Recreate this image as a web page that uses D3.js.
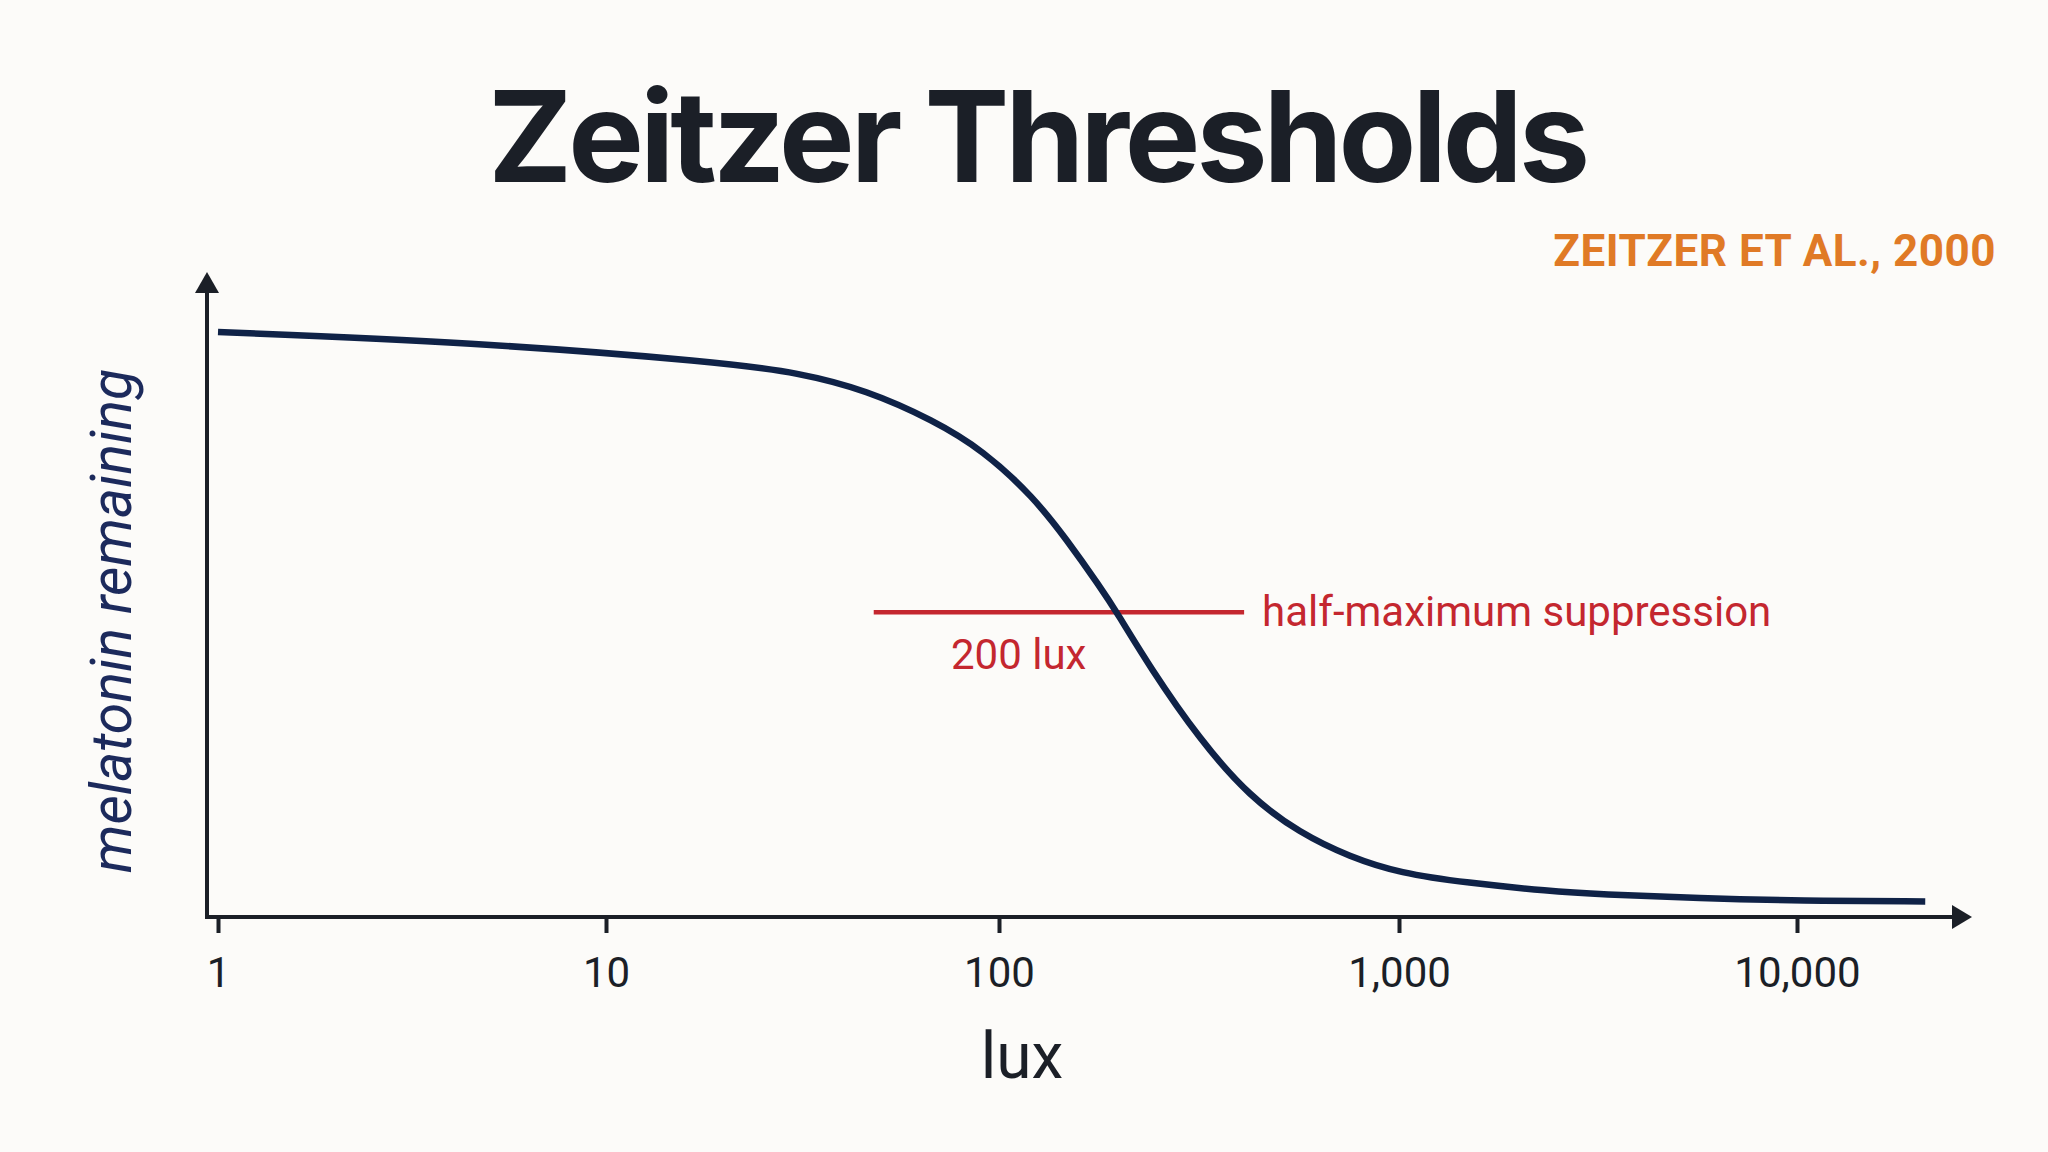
<!DOCTYPE html>
<html>
<head>
<meta charset="utf-8">
<script src="https://cdn.jsdelivr.net/npm/d3@7"></script>
<style>
  html, body { margin: 0; padding: 0; background: #fcfbf9; }
  svg { display: block; }
</style>
</head>
<body>
<div id="chart"></div>
<script>
// data
var luxValues = [1, 4.5, 19.5, 31, 46, 68, 91, 122, 148, 179, 197, 238, 318, 424, 565, 754, 1006, 1480, 2390, 3200, 5700, 10190, 21000];
var melatoninRemaining = [97.5, 95.8, 92.5, 90.7, 87.8, 82.8, 77.8, 70, 62.8, 55, 50.8, 41.7, 29.5, 20, 14, 10, 7.3, 5.7, 4.3, 3.8, 3.1, 2.7, 2.6];
var tickValues = [1, 10, 100, 1000, 10000];
var halfMax = 50.8;
var halfMaxSpan = [48, 410];
var thresholdLux = 200;

var svgWidth = 2048;
var svgHeight = 1152;

var navy = "#0f2247";
var ink = "#1b1f27";
var red = "#c4272f";

var svg = d3.select("#chart")
    .append("svg")
    .attr("width", svgWidth)
    .attr("height", svgHeight);

svg.append("rect")
    .attr("width", svgWidth)
    .attr("height", svgHeight)
    .attr("fill", "#fcfbf9");

// decades in the picture are not quite evenly spaced
var x = d3.scaleLog()
    .domain(tickValues)
    .range([218, 606, 999, 1399, 1797]);

var y = d3.scaleLinear()
    .domain([0, 100])
    .range([917, 317]);

var axisX0 = 207;
var axisY0 = 917;

// title + source
var title = svg.append("text")
    .attr("x", 1037)
    .attr("y", 182)
    .attr("text-anchor", "middle")
    .style("font-family", "Inter, Roboto, sans-serif")
    .style("font-weight", 700)
    .style("font-size", "127px")
    .attr("fill", ink)
    .text("Zeitzer Thresholds");

// fit the title to the width it has in the picture
var titleWidth = title.node().getComputedTextLength();
title.style("letter-spacing", ((1102 - titleWidth) / 17) + "px");

svg.append("text")
    .attr("x", 1996)
    .attr("y", 266)
    .attr("text-anchor", "end")
    .style("font-family", "Roboto, sans-serif")
    .style("font-weight", 700)
    .style("font-size", "44px")
    .style("letter-spacing", "0.5px")
    .attr("fill", "#e07a26")
    .text("ZEITZER ET AL., 2000");

// x axis with ticks
var bottomAxis = d3.axisBottom(x)
    .tickValues(tickValues)
    .tickFormat(d3.format(","))
    .tickSize(16)
    .tickPadding(24);

var xAxis = svg.append("g")
    .attr("transform", `translate(0, ${axisY0})`)
    .call(bottomAxis);

xAxis.select(".domain").remove();
xAxis.selectAll(".tick line")
    .attr("stroke", ink)
    .attr("stroke-width", 4);
xAxis.selectAll(".tick text")
    .attr("fill", ink)
    .style("font-family", "Roboto, sans-serif")
    .style("font-size", "42px");

// axis lines with arrow heads
svg.append("line")
    .attr("x1", axisX0).attr("y1", axisY0)
    .attr("x2", 1955).attr("y2", axisY0)
    .attr("stroke", ink)
    .attr("stroke-width", 4);
svg.append("path")
    .attr("d", `M1972,${axisY0} L1952,${axisY0 - 12} L1952,${axisY0 + 12} Z`)
    .attr("fill", ink);

svg.append("line")
    .attr("x1", axisX0).attr("y1", axisY0 + 2)
    .attr("x2", axisX0).attr("y2", 290)
    .attr("stroke", ink)
    .attr("stroke-width", 4);
svg.append("path")
    .attr("d", `M${axisX0},272 L${axisX0 - 12},293 L${axisX0 + 12},293 Z`)
    .attr("fill", ink);

// axis labels
svg.append("text")
    .attr("x", 1022)
    .attr("y", 1078)
    .attr("text-anchor", "middle")
    .style("font-family", "Roboto, sans-serif")
    .style("font-size", "64px")
    .attr("fill", ink)
    .text("lux");

svg.append("text")
    .attr("transform", "translate(131, 621) rotate(-90)")
    .attr("text-anchor", "middle")
    .style("font-family", "Roboto, sans-serif")
    .style("font-style", "italic")
    .style("font-size", "57px")
    .attr("fill", "#1c2a5c")
    .text("melatonin remaining");

// half-maximum marker
svg.append("line")
    .attr("x1", x(halfMaxSpan[0])).attr("y1", y(halfMax))
    .attr("x2", x(halfMaxSpan[1])).attr("y2", y(halfMax))
    .attr("stroke", red)
    .attr("stroke-width", 4.5);

// suppression curve
var curveData = luxValues.map(function(l, i) {
    return { lux: l, value: melatoninRemaining[i] };
});

var line = d3.line()
    .x(d => x(d.lux))
    .y(d => y(d.value))
    .curve(d3.curveBasis);

svg.append("path")
    .datum(curveData)
    .attr("d", line)
    .attr("fill", "none")
    .attr("stroke", navy)
    .attr("stroke-width", 6.5);

svg.append("text")
    .attr("x", x(halfMaxSpan[1]) + 18)
    .attr("y", y(halfMax) + 14)
    .style("font-family", "Roboto, sans-serif")
    .style("font-size", "42px")
    .attr("fill", red)
    .text("half-maximum suppression");

svg.append("text")
    .attr("x", x(thresholdLux) - 33)
    .attr("y", y(halfMax) + 57)
    .attr("text-anchor", "end")
    .style("font-family", "Roboto, sans-serif")
    .style("font-size", "42px")
    .attr("fill", red)
    .text("200 lux");
</script>
</body>
</html>
